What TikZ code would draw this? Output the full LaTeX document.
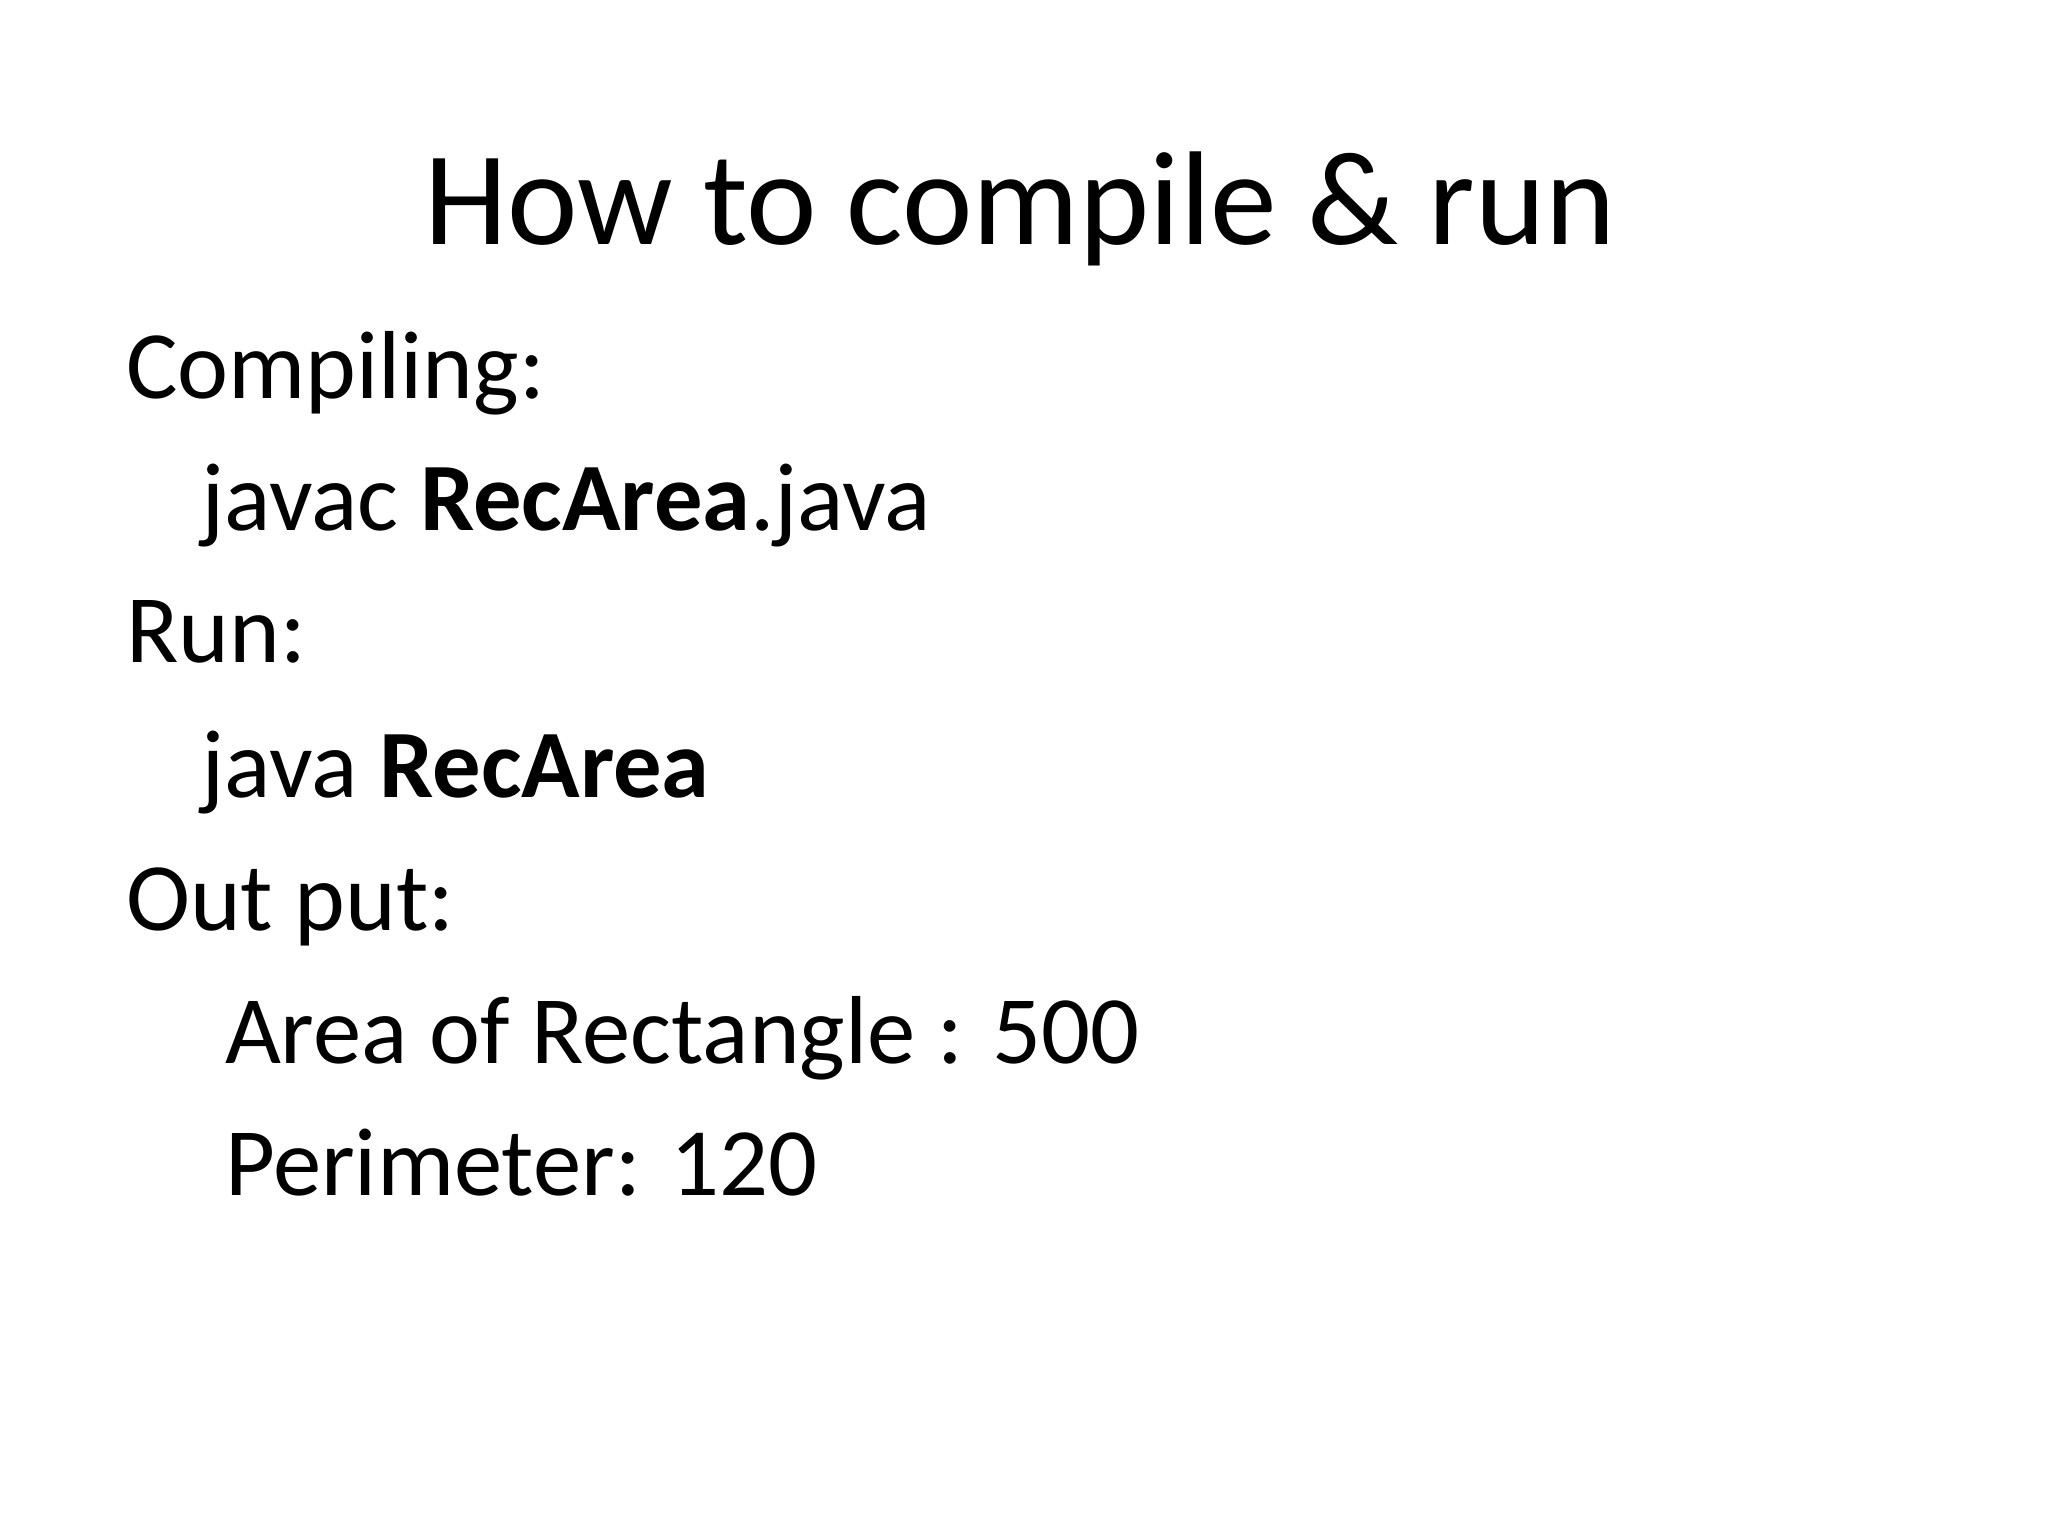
\documentclass[tikz,border=0pt]{standalone}
\usepackage{fontspec}
\setmainfont{Carlito}
\begin{document}
\begin{tikzpicture}[x=0.0132cm,y=-0.0132cm,
  body/.style={anchor=base west,inner sep=0pt,font=\fontsize{27.5}{33}\selectfont},
  ttl/.style={anchor=base,inner sep=0pt,font=\fontsize{38}{45}\selectfont}]
\useasboundingbox[fill=white] (0,0) rectangle (1552,1164);
\node[ttl] (title) at (773,185) {How to compile \& run};
\node[body] (l1) at (95,302) {Compiling:};
\node[body] (l2) at (152,402) {javac \textbf{RecArea}.java};
\node[body] (l3) at (95,502) {Run:};
\node[body] (l4) at (152,604) {java \textbf{RecArea}};
\node[body] (l5) at (95,705) {Out put:};
\node[body] (l6) at (170,806) {Area of Rectangle : 500};
\node[body] (l7) at (170,906) {Perimeter: 120};
\end{tikzpicture}
\end{document}
